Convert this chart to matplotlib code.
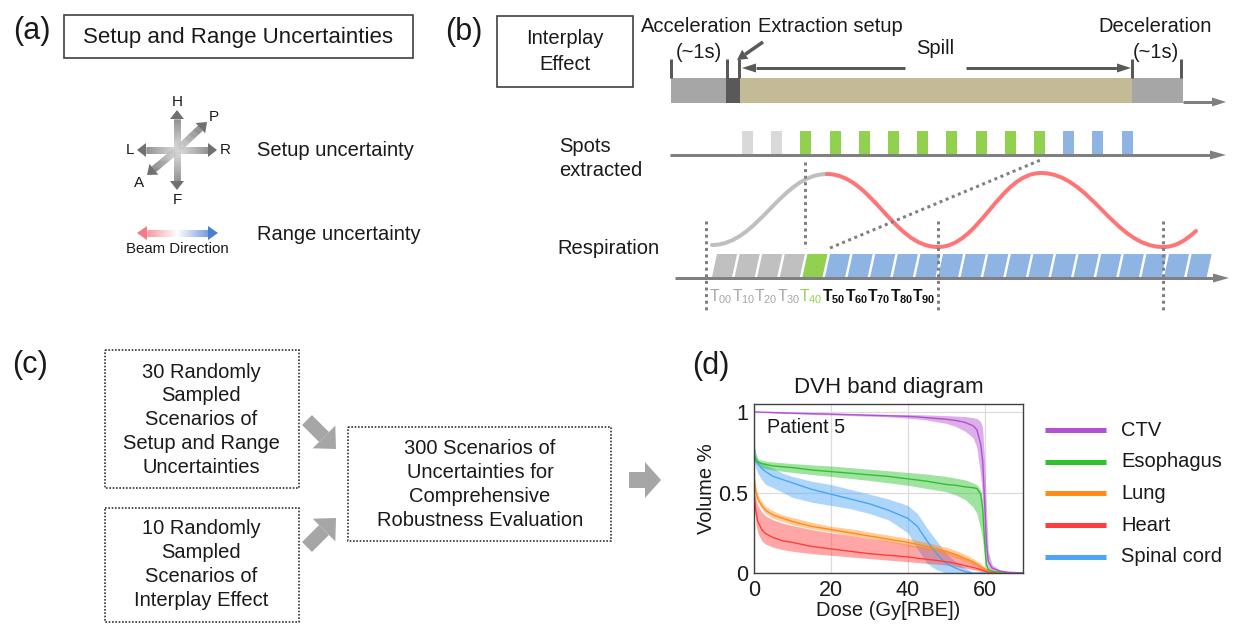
import numpy as np
import matplotlib.pyplot as plt
from matplotlib.patches import Rectangle, Polygon, PathPatch
from matplotlib.path import Path
from matplotlib.collections import LineCollection
from matplotlib.colors import LinearSegmentedColormap

plt.rcParams['font.family'] = ['Liberation Sans', 'DejaVu Sans']
plt.rcParams['mathtext.fontset'] = 'custom'
plt.rcParams['mathtext.rm'] = 'Liberation Sans'
plt.rcParams['mathtext.it'] = 'Liberation Sans:italic'
plt.rcParams['mathtext.bf'] = 'Liberation Sans:bold'

TXT = '#1a1a1a'

# ---------------- data ----------------
# (a)
cross_labels = ['H', 'F', 'L', 'R', 'P', 'A']

# (b) spots extracted / respiration phases
spot_kinds = ['gray'] * 2 + ['green'] * 9 + ['blue'] * 3
phase_kinds = ['gray'] * 4 + ['green'] + ['blue'] * 17
phase_labels = ['00', '10', '20', '30', '40', '50', '60', '70', '80', '90']
phase_label_kinds = ['gray'] * 4 + ['green'] + ['black'] * 5
kind_colors = {'gray': '#c0c0c0', 'green': '#92d050', 'blue': '#8db4e2', 'black': '#111111'}
label_colors = {'gray': '#a6a6a6', 'green': '#92d050', 'black': '#111111'}
spot_colors = {'gray': '#d9d9d9', 'green': '#92d050', 'blue': '#8db4e2'}

# (c)
box1_lines = ['30 Randomly', 'Sampled', 'Scenarios of', 'Setup and Range', 'Uncertainties']
box2_lines = ['10 Randomly', 'Sampled', 'Scenarios of', 'Interplay Effect']
box3_lines = ['300 Scenarios of', 'Uncertainties for', 'Comprehensive', 'Robustness Evaluation']

# (d) DVH bands
dose = [0, 0.5, 1, 2, 3, 5, 7.5, 10, 15, 20, 25, 30, 35, 40, 42.5, 45, 47.5, 50,
        52.5, 55, 57, 58, 59, 59.5, 60, 60.5, 61, 62, 64, 66, 70]
ctv_mean = [1.0, 1.0, 1.0, 0.999, 0.998, 0.997, 0.995, 0.993, 0.99, 0.987, 0.984, 0.98, 0.977, 0.973,
            0.97, 0.965, 0.96, 0.955, 0.948, 0.935, 0.915, 0.89, 0.8, 0.7, 0.45, 0.18, 0.07, 0.03,
            0.012, 0.005, 0.0]
ctv_hi = [1.0, 1.0, 1.0, 1.0, 1.0, 0.999, 0.998, 0.997, 0.995, 0.993, 0.99, 0.988, 0.986, 0.985,
          0.984, 0.982, 0.98, 0.978, 0.975, 0.972, 0.965, 0.96, 0.94, 0.9, 0.7, 0.4, 0.13, 0.05,
          0.02, 0.008, 0.0]
ctv_lo = [1.0, 1.0, 1.0, 0.998, 0.997, 0.995, 0.992, 0.99, 0.985, 0.982, 0.978, 0.974, 0.97, 0.962,
          0.957, 0.95, 0.94, 0.93, 0.91, 0.88, 0.84, 0.78, 0.6, 0.45, 0.22, 0.08, 0.03, 0.012,
          0.005, 0.002, 0.0]
eso_mean = [0.73, 0.7, 0.69, 0.68, 0.675, 0.665, 0.66, 0.655, 0.64, 0.63, 0.62, 0.61, 0.6, 0.585,
            0.578, 0.57, 0.56, 0.55, 0.545, 0.535, 0.53, 0.525, 0.49, 0.4, 0.2, 0.05, 0.02, 0.01,
            0.005, 0.002, 0.0]
eso_hi = [0.8, 0.74, 0.71, 0.7, 0.695, 0.69, 0.685, 0.68, 0.672, 0.665, 0.655, 0.645, 0.635, 0.625,
          0.62, 0.615, 0.607, 0.6, 0.59, 0.578, 0.56, 0.548, 0.515, 0.45, 0.25, 0.07, 0.03, 0.015,
          0.007, 0.003, 0.0]
eso_lo = [0.7, 0.68, 0.67, 0.655, 0.648, 0.64, 0.632, 0.625, 0.612, 0.6, 0.588, 0.575, 0.56, 0.545,
          0.535, 0.525, 0.515, 0.505, 0.485, 0.455, 0.41, 0.37, 0.27, 0.2, 0.08, 0.03, 0.01, 0.005,
          0.002, 0.001, 0.0]
lung_mean = [0.6, 0.5, 0.46, 0.42, 0.39, 0.36, 0.34, 0.32, 0.29, 0.27, 0.25, 0.23, 0.21, 0.19,
             0.178, 0.165, 0.15, 0.135, 0.115, 0.09, 0.07, 0.055, 0.04, 0.032, 0.025, 0.02, 0.015,
             0.01, 0.005, 0.002, 0.0]
lung_hi = [0.62, 0.53, 0.49, 0.445, 0.415, 0.385, 0.36, 0.345, 0.315, 0.29, 0.275, 0.255, 0.235,
           0.215, 0.203, 0.19, 0.175, 0.16, 0.14, 0.115, 0.09, 0.075, 0.06, 0.05, 0.04, 0.03, 0.02,
           0.012, 0.006, 0.003, 0.0]
lung_lo = [0.58, 0.47, 0.44, 0.4, 0.37, 0.34, 0.32, 0.3, 0.275, 0.255, 0.235, 0.215, 0.195, 0.17,
           0.158, 0.145, 0.13, 0.115, 0.095, 0.07, 0.05, 0.04, 0.03, 0.022, 0.015, 0.011, 0.008,
           0.005, 0.002, 0.001, 0.0]
heart_mean = [0.5, 0.38, 0.32, 0.27, 0.245, 0.22, 0.2, 0.19, 0.165, 0.15, 0.135, 0.12, 0.11, 0.1,
              0.092, 0.085, 0.078, 0.07, 0.06, 0.045, 0.035, 0.028, 0.02, 0.016, 0.012, 0.009,
              0.006, 0.003, 0.001, 0.0, 0.0]
heart_hi = [0.52, 0.46, 0.42, 0.38, 0.355, 0.33, 0.31, 0.295, 0.27, 0.25, 0.235, 0.215, 0.2, 0.18,
            0.17, 0.16, 0.148, 0.135, 0.115, 0.095, 0.075, 0.06, 0.045, 0.037, 0.03, 0.022, 0.015,
            0.008, 0.003, 0.001, 0.0]
heart_lo = [0.45, 0.3, 0.25, 0.2, 0.18, 0.16, 0.145, 0.135, 0.12, 0.11, 0.1, 0.09, 0.08, 0.07,
            0.065, 0.06, 0.055, 0.05, 0.04, 0.03, 0.02, 0.015, 0.01, 0.007, 0.005, 0.003, 0.002,
            0.001, 0.0, 0.0, 0.0]
cord_mean = [0.75, 0.7, 0.68, 0.65, 0.63, 0.6, 0.58, 0.56, 0.52, 0.49, 0.46, 0.43, 0.39, 0.34,
             0.29, 0.2, 0.12, 0.06, 0.03, 0.008, 0.0, 0.0, 0.0, 0.0, 0.0, 0.0, 0.0, 0.0, 0.0, 0.0, 0.0]
cord_hi = [0.82, 0.73, 0.7, 0.68, 0.67, 0.65, 0.62, 0.6, 0.57, 0.55, 0.52, 0.49, 0.46, 0.42, 0.37,
           0.28, 0.2, 0.12, 0.07, 0.03, 0.005, 0.0, 0.0, 0.0, 0.0, 0.0, 0.0, 0.0, 0.0, 0.0, 0.0]
cord_lo = [0.7, 0.65, 0.62, 0.58, 0.55, 0.53, 0.5, 0.47, 0.44, 0.42, 0.4, 0.37, 0.33, 0.25, 0.15,
           0.06, 0.02, 0.0, 0.0, 0.0, 0.0, 0.0, 0.0, 0.0, 0.0, 0.0, 0.0, 0.0, 0.0, 0.0, 0.0]

structures = ['CTV', 'Esophagus', 'Lung', 'Heart', 'Spinal cord']
struct_colors = ['#b34fd1', '#2ec12e', '#ff8c19', '#ff3d3d', '#4aa5f5']
struct_data = {
    'CTV': (ctv_mean, ctv_lo, ctv_hi),
    'Esophagus': (eso_mean, eso_lo, eso_hi),
    'Lung': (lung_mean, lung_lo, lung_hi),
    'Heart': (heart_mean, heart_lo, heart_hi),
    'Spinal cord': (cord_mean, cord_lo, cord_hi),
}

# ---------------- canvas in pixel units ----------------
fig = plt.figure(figsize=(12.36, 6.31), dpi=100)
ax = fig.add_axes([0, 0, 1, 1])
ax.set_xlim(0, 1236)
ax.set_ylim(631, 0)
ax.axis('off')


def pt(v):
    return v * 0.72


def arrow(x0, y0, x1, y1, c0, c1, w, hw, hl, n=40, z=3):
    p0 = np.array([x0, y0], float)
    p1 = np.array([x1, y1], float)
    d = p1 - p0
    u = d / np.hypot(*d)
    nrm = np.array([-u[1], u[0]])
    base = p1 - u * hl
    t = np.linspace(0, 1, n + 1)
    pts = p0 + np.outer(t, base - p0)
    segs = np.stack([pts[:-1], pts[1:]], axis=1)
    cmap = LinearSegmentedColormap.from_list('g', [c0, c1])
    cols = cmap((t[:-1] + t[1:]) / 2)
    ax.add_collection(LineCollection(segs, colors=cols, linewidths=pt(w),
                                     capstyle='butt', zorder=z))
    ax.add_patch(Polygon([p1, base + nrm * hw / 2, base - nrm * hw / 2], closed=True,
                         facecolor=c1, edgecolor='none', zorder=z))


# ---------------- (a) ----------------
ax.text(32, 31, '(a)', fontsize=22, ha='center', va='center', color=TXT)
ax.add_patch(Rectangle((64, 15), 349, 43, fill=False, ec='#404040', lw=1.2))
ax.text(238, 37, 'Setup and Range Uncertainties', fontsize=16, ha='center', va='center', color=TXT)

cx, cy = 177, 150
tips = {'H': (177, 110), 'F': (177, 190), 'L': (137, 150), 'R': (217, 150),
        'P': (207, 122), 'A': (147, 175)}
lab_pos = {'H': (177, 102), 'F': (177, 200), 'L': (130, 150), 'R': (225, 150),
           'P': (214, 117), 'A': (139, 183)}
for k in cross_labels:
    tx, ty = tips[k]
    arrow(cx, cy, tx, ty, '#d6d6d6', '#707070', 7, 14, 9)
    ax.text(*lab_pos[k], k, fontsize=11, ha='center', va='center', color=TXT)
ax.text(257, 150, 'Setup uncertainty', fontsize=14.5, ha='left', va='center', color=TXT)

arrow(177, 233, 137, 233, '#ffffff', '#f07c84', 7, 14, 10)
arrow(177, 233, 218, 233, '#ffffff', '#4a7fd0', 7, 14, 10)
ax.text(177, 249, 'Beam Direction', fontsize=10.8, ha='center', va='center', color=TXT)
ax.text(257, 234, 'Range uncertainty', fontsize=14.5, ha='left', va='center', color=TXT)

# ---------------- (b) ----------------
ax.text(464, 32, '(b)', fontsize=22, ha='center', va='center', color=TXT)
ax.add_patch(Rectangle((497, 16), 136, 71, fill=False, ec='#404040', lw=1.2))
ax.text(565, 39, 'Interplay', fontsize=14.5, ha='center', va='center', color=TXT)
ax.text(565, 65, 'Effect', fontsize=14.5, ha='center', va='center', color=TXT)

ax.text(641, 26, 'Acceleration', fontsize=14.5, ha='left', va='center', color=TXT)
ax.text(758, 26, 'Extraction setup', fontsize=14.5, ha='left', va='center', color=TXT)
ax.text(1155, 27, 'Deceleration', fontsize=14.5, ha='center', va='center', color=TXT)
ax.text(699, 53, '(~1s)', fontsize=14.5, ha='center', va='center', color=TXT)
ax.text(1156, 53, '(~1s)', fontsize=14.5, ha='center', va='center', color=TXT)
ax.text(935, 49, 'Spill', fontsize=14.5, ha='center', va='center', color=TXT)

# accelerator cycle bar
ax.add_patch(Rectangle((671, 78), 55, 25, fc='#a6a6a6', ec='none'))
ax.add_patch(Rectangle((726, 78), 14, 25, fc='#595959', ec='none'))
ax.add_patch(Rectangle((740, 78), 392, 25, fc='#c4bb96', ec='none'))
ax.add_patch(Rectangle((1132, 78), 51, 25, fc='#a6a6a6', ec='none'))
for xt in [671, 727, 739, 1132, 1181]:
    ax.plot([xt, xt], [59, 78], color='#595959', lw=pt(3), solid_capstyle='butt')
arrow(1183, 102, 1226, 102, '#7f7f7f', '#7f7f7f', 3, 9, 14, n=1)
arrow(905, 68, 742, 68, '#595959', '#595959', 3, 9, 14, n=1)
arrow(966, 68, 1131, 68, '#595959', '#595959', 3, 9, 14, n=1)
arrow(763, 42, 737, 60, '#595959', '#595959', 3.5, 11, 10, n=1)

# spots extracted
ax.text(559, 147, 'Spots', fontsize=14.5, ha='left', va='center', color=TXT)
ax.text(559, 171, 'extracted', fontsize=14.5, ha='left', va='center', color=TXT)
arrow(670, 155, 1226, 155, '#808080', '#808080', 3, 9, 16, n=1)
for i, kind in enumerate(spot_kinds):
    ax.add_patch(Rectangle((742 + i * 29.2, 131), 11, 23, fc=spot_colors[kind], ec='none', zorder=2))

# respiration
ax.text(557, 248, 'Respiration', fontsize=14.5, ha='left', va='center', color=TXT)
arrow(675, 278, 1229, 278, '#808080', '#808080', 3, 9, 16, n=1)
pitch, slant = 22.6, 5
for i, kind in enumerate(phase_kinds):
    x0 = 712 + i * pitch
    ax.add_patch(Polygon([(x0, 277), (x0 + slant, 254), (x0 + pitch - 2.5 + slant, 254),
                          (x0 + pitch - 2.5, 277)], closed=True,
                         fc=kind_colors[kind], ec='none', zorder=2))
for i, (lab, kind) in enumerate(zip(phase_labels, phase_label_kinds)):
    s = r'$\mathbf{T_{%s}}$' % lab if kind == 'black' else r'T$_{\mathrm{%s}}$' % lab
    ax.text(709 + i * pitch, 297, s, fontsize=11.3, ha='left', va='center',
            color=label_colors[kind])


def smooth_path(xs, ys):
    verts = [(xs[0], ys[0])]
    codes = [Path.MOVETO]
    for x0, y0, x1, y1 in zip(xs[:-1], ys[:-1], xs[1:], ys[1:]):
        dx = x1 - x0
        verts += [(x0 + 0.4 * dx, y0), (x1 - 0.4 * dx, y1), (x1, y1)]
        codes += [Path.CURVE4] * 3
    return Path(verts, codes)


resp_gray_x, resp_gray_y = [712, 827], [245, 174]
resp_red_x, resp_red_y = [827, 938, 1041, 1163], [174, 247, 173, 247]
ax.add_patch(PathPatch(smooth_path(resp_gray_x, resp_gray_y), fc='none', ec='#bfbfbf',
                       lw=pt(4), capstyle='round', zorder=3))
ax.add_patch(PathPatch(smooth_path(resp_red_x, resp_red_y), fc='none', ec='#ff7575',
                       lw=pt(4), capstyle='round', zorder=3))
ax.add_patch(PathPatch(Path([(1163, 247), (1176, 247), (1186, 240), (1196, 231)],
                            [Path.MOVETO, Path.CURVE4, Path.CURVE4, Path.CURVE4]),
                       fc='none', ec='#ff7575', lw=pt(4), capstyle='round', zorder=3))

dot_kw = dict(color='#7f7f7f', lw=pt(3), linestyle=(0, (1, 1.2)), zorder=4)
for xv in [706, 938, 1163]:
    ax.plot([xv, xv], [221, 310], **dot_kw)
ax.plot([805, 805], [162, 248], **dot_kw)
ax.plot([830, 1043], [248, 159], **dot_kw)

# ---------------- (c) ----------------
ax.text(30, 365, '(c)', fontsize=22, ha='center', va='center', color=TXT)
box_kw = dict(fill=False, ec='#333333', lw=1.2, linestyle=(0, (1, 1)))
ax.add_patch(Rectangle((105, 350), 194, 138, **box_kw))
ax.add_patch(Rectangle((105, 508), 194, 114, **box_kw))
ax.add_patch(Rectangle((348, 427), 263, 114, **box_kw))
for i, s in enumerate(box1_lines):
    ax.text(201, 372 + i * 23.8, s, fontsize=14.5, ha='center', va='center', color=TXT)
for i, s in enumerate(box2_lines):
    ax.text(201, 529 + i * 24, s, fontsize=14.5, ha='center', va='center', color=TXT)
for i, s in enumerate(box3_lines):
    ax.text(480, 448 + i * 24.3, s, fontsize=14.5, ha='center', va='center', color=TXT)
arrow(307, 420, 336, 449, '#a6a6a6', '#a6a6a6', 14, 32, 17, n=1)
arrow(307, 547, 336, 518, '#a6a6a6', '#a6a6a6', 14, 32, 17, n=1)
arrow(629, 480, 661, 480, '#a6a6a6', '#a6a6a6', 16, 36, 16, n=1)

# ---------------- (d) ----------------
ax.text(711, 366, '(d)', fontsize=22, ha='center', va='center', color=TXT)
for i, (name, col) in enumerate(zip(structures, struct_colors)):
    yy = 430 + i * 31.7
    ax.plot([1045, 1106], [yy, yy], color=col, lw=pt(5), solid_capstyle='butt')
    ax.text(1121, yy, name, fontsize=14.5, ha='left', va='center', color=TXT)

ax2 = fig.add_axes([754 / 1236, (631 - 573) / 631, 269 / 1236, 169 / 631])
for name, col in zip(structures[::-1], struct_colors[::-1]):
    m, lo, hi = struct_data[name]
    ax2.fill_between(dose, lo, hi, color=col, alpha=0.45, lw=0)
    ax2.plot(dose, m, color=col, lw=1)
ax2.set_xlim(0, 70)
ax2.set_ylim(0, 1.05)
ax2.set_xticks([0, 20, 40, 60])
ax2.set_yticks([0, 0.5, 1])
ax2.set_yticklabels(['0', '0.5', '1'])
ax2.tick_params(length=0, labelsize=15.5, colors=TXT)
ax2.tick_params(axis='x', pad=5)
ax2.tick_params(axis='y', pad=4)
ax2.grid(True, color='#dcdcdc', lw=0.9)
ax2.set_axisbelow(True)
for sp in ax2.spines.values():
    sp.set_color('#404040')
    sp.set_linewidth(1)
ax2.set_title('DVH band diagram', fontsize=16, pad=8, color=TXT)
ax2.set_xlabel('Dose (Gy[RBE])', fontsize=14.5, labelpad=0, color=TXT)
ax2.set_ylabel('Volume %', fontsize=14.5, labelpad=2, color=TXT)
ax2.text(3.4, 0.905, 'Patient 5', fontsize=14.2, ha='left', va='center', color=TXT)

fig.savefig('out.png', dpi=100)
